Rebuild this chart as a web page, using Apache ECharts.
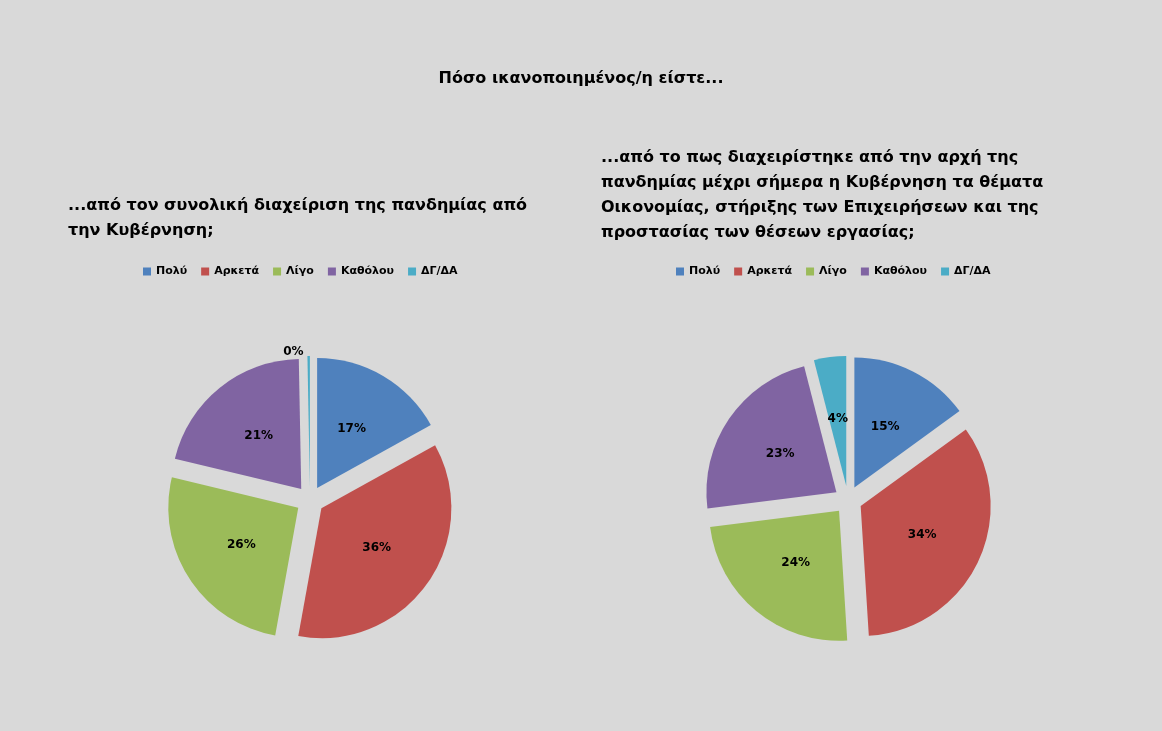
<!DOCTYPE html>
<html><head><meta charset="utf-8">
<script src="https://cdn.jsdelivr.net/npm/echarts@6/dist/echarts.min.js"></script>
<style>html,body{margin:0;padding:0;background:#D9D9D9}#c{width:1162px;height:731px}</style>
</head><body><div id="c"></div>
<script>
const categories = ['Πολύ','Αρκετά','Λίγο','Καθόλου','ΔΓ/ΔΑ'];
const leftValues = [17, 36, 26, 21, 0.3];
const rightValues = [15, 34, 24, 23, 4];
const colors = ['#4F81BD','#C0504D','#9BBB59','#8064A2','#4BACC6'];
const mainTitle = 'Πόσο ικανοποιημένος/η είστε...';
const leftTitle = '...από τον συνολική διαχείριση της πανδημίας από\nτην Κυβέρνηση;';
const rightTitle = '...από το πως διαχειρίστηκε από την αρχή της\nπανδημίας μέχρι σήμερα η Κυβέρνηση τα θέματα\nΟικονομίας, στήριξης των Επιχειρήσεων και της\nπροστασίας των θέσεων εργασίας;';
const font = 'DejaVu Sans';
function mk(vals){return categories.map((n,i)=>{
  const d={name:n,value:vals[i],selected:true};
  if(vals[i]<1){d.label={position:'outside',distance:6};}
  return d;});}
function pie(vals,cx){return {type:'pie',center:[cx,500],radius:[0,130],startAngle:90,clockwise:true,
 selectedMode:'multiple',selectedOffset:14,avoidLabelOverlap:false,
 itemStyle:{borderColor:'#D9D9D9',borderWidth:0},
 label:{position:'inside',color:'#000',fontWeight:'bold',fontSize:12,fontFamily:font,
  formatter:p=>Math.round(p.value)+'%'},
 labelLine:{show:false,length:4,length2:0},emphasis:{disabled:true},data:mk(vals)};}
const chart = echarts.init(document.getElementById('c'));
chart.setOption({
 backgroundColor:'#D9D9D9',color:colors,animation:false,
 title:[
  {text:mainTitle,left:'center',top:66,textStyle:{fontFamily:font,fontSize:16,fontWeight:'bold',color:'#000'}},
  {text:leftTitle,left:63,top:188,textStyle:{fontFamily:font,fontSize:16,fontWeight:'bold',color:'#000',lineHeight:25}},
  {text:rightTitle,left:596,top:140,textStyle:{fontFamily:font,fontSize:16,fontWeight:'bold',color:'#000',lineHeight:25}}
 ],
 legend:[
  {data:categories,left:138,top:261,itemWidth:8,itemHeight:8,icon:'rect',itemGap:14,selectedMode:false,
   textStyle:{fontFamily:font,fontSize:11,fontWeight:'bold',color:'#000'}},
  {data:categories,left:671,top:261,itemWidth:8,itemHeight:8,icon:'rect',itemGap:14,selectedMode:false,
   textStyle:{fontFamily:font,fontSize:11,fontWeight:'bold',color:'#000'}}
 ],
 series:[pie(leftValues,310),pie(rightValues,848)]
});
</script></body></html>
